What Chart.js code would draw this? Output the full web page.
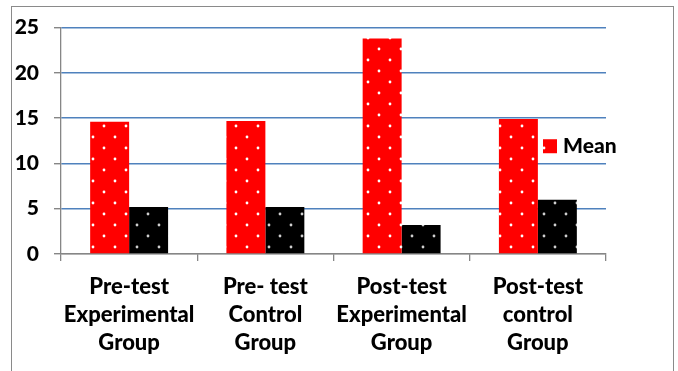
<!DOCTYPE html>
<html>
<head>
<meta charset="utf-8">
<script src="https://cdn.jsdelivr.net/npm/chart.js"></script>
<style>
  html, body { margin: 0; padding: 0; background: #fff; }
  #wrap { position: relative; width: 678px; height: 371px; overflow: hidden; }
  #frame { position: absolute; left: 11px; top: 6px; width: 661px; height: 420px; border: 1px solid #8a8a8a; }
  #myChart { position: absolute; left: 0; top: 0; }
</style>
</head>
<body>
<div id="wrap">
  <div id="frame"></div>
  <canvas id="myChart" width="678" height="371"></canvas>
</div>
<script>
const groups = [
  ["Pre-test", "Experimental", "Group"],
  ["Pre- test", "Control", "Group"],
  ["Post-test", "Experimental", "Group"],
  ["Post-test", "control", "Group"],
];
const meanValues = [14.6, 14.7, 23.8, 14.9];
const sdValues = [5.2, 5.2, 3.2, 6.0];
const yMin = 0;
const yMax = 25;
const yStep = 5;

// dotted fill like the office pattern
function dots(bg, dot) {
  const c = document.createElement("canvas");
  c.width = 22;
  c.height = 22;
  const g = c.getContext("2d");
  g.fillStyle = bg;
  g.fillRect(0, 0, 22, 22);
  g.fillStyle = dot;
  [[5, 5], [16, 16]].forEach(([x, y]) => {
    g.beginPath();
    g.arc(x, y, 1.4, 0, Math.PI * 2);
    g.fill();
  });
  return g.createPattern(c, "repeat");
}

const font = { family: "Lato", weight: 900, size: 21 };

// only the first series is listed, drawn inside the plot like the original
const meanLegend = {
  id: "meanLegend",
  afterDraw(chart) {
    const ctx = chart.ctx;
    const ds = chart.data.datasets[0];
    const a = chart.chartArea;
    const x = a.right - 63;
    const y = chart.scales.y.getPixelForValue(11.9);
    ctx.save();
    ctx.fillStyle = ds.backgroundColor;
    ctx.fillRect(x, y - 7, 14, 14);
    ctx.fillStyle = "#000";
    ctx.font = "900 21px Lato";
    ctx.textBaseline = "middle";
    ctx.fillText(ds.label, x + 20, y);
    ctx.restore();
  },
};

new Chart("myChart", {
  type: "bar",
  data: {
    labels: groups,
    datasets: [
      {
        label: "Mean",
        data: meanValues,
        backgroundColor: dots("#ff0000", "#ffffff"),
        categoryPercentage: 0.572,
        barPercentage: 1,
      },
      {
        label: "SD",
        data: sdValues,
        backgroundColor: dots("#000000", "#d0d0d0"),
        categoryPercentage: 0.572,
        barPercentage: 1,
      },
    ],
  },
  options: {
    responsive: false,
    animation: false,
    layout: { padding: { left: 11, top: 25, right: 72, bottom: 0 } },
    plugins: {
      legend: { display: false },
      tooltip: { enabled: false },
    },
    scales: {
      x: {
        grid: {
          offset: true,
          drawOnChartArea: false,
          tickLength: 7,
          color: "#868686",
          lineWidth: 1.3,
        },
        border: { color: "#868686", width: 1.3 },
        ticks: { color: "#000", font: { ...font, size: 22, lineHeight: 1.28 }, padding: 12, maxRotation: 0 },
        afterFit(s) { s.height = 117; },
      },
      y: {
        min: yMin,
        max: yMax,
        ticks: { stepSize: yStep, color: "#000", font: font, padding: 15 },
        grid: {
          color: (c) => (c.tick && c.tick.value === 0 ? "#868686" : "#4f81bd"),
          tickColor: "#868686",
          tickLength: 7,
          lineWidth: 1.4,
        },
        border: { color: "#868686", width: 1.3 },
        afterFit(s) { s.width = 50; },
      },
    },
  },
  plugins: [meanLegend],
});
</script>
</body>
</html>
